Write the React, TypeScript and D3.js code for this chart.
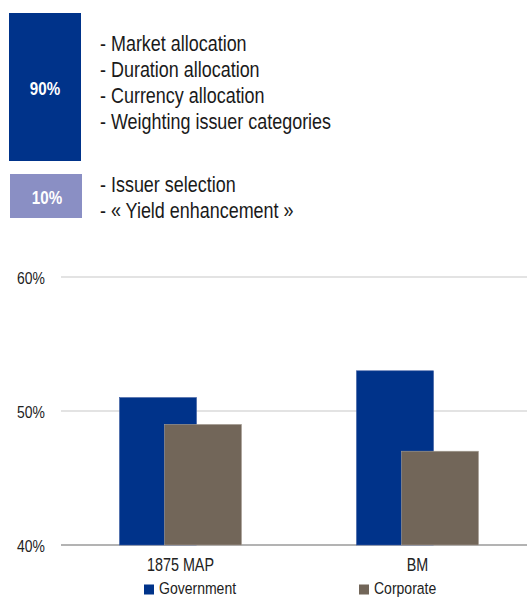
import React from "react";
import * as d3 from "d3";

const categories = ["1875 MAP", "BM"];
const seriesNames = ["Government", "Corporate"];
const government = [51, 53];
const corporate = [49, 47];
const yTicks = [40, 50, 60];
const topItems = ["- Market allocation", "- Duration allocation", "- Currency allocation", "- Weighting issuer categories"];
const bottomItems = ["- Issuer selection", "- « Yield enhancement »"];
const shares = ["90%", "10%"];

const NAVY = "#00338a";
const BROWN = "#726659";
const LIGHT = "#8a8fc4";
const FONT = "'Liberation Sans', Arial, sans-serif";

function NText(props: { x: number; y: number; size: number; sx?: number; anchor?: string; fill?: string; bold?: boolean; children: React.ReactNode }) {
  const { x, y, size, sx = 0.82, anchor = "start", fill = "#1a1a1a", bold = false, children } = props;
  return (
    <g transform={`translate(${x},${y}) scale(${sx},1)`}>
      <text x={0} y={0} fontSize={size} textAnchor={anchor} fill={fill} fontWeight={bold ? "bold" : "normal"}>{children}</text>
    </g>
  );
}

export default function App() {
  const W = 527, H = 598;
  const y = d3.scaleLinear().domain([40, 60]).range([545, 277]);
  const x = d3.scaleBand().domain(categories).range([62, 536]);
  const barW = 77;
  const off = 45;
  const series = [government, corporate];
  const colors = [NAVY, BROWN];
  return (
    <svg width={W} height={H} style={{ position: "absolute", left: 0, top: 0 }} fontFamily={FONT}>
      <rect x={9} y={13} width={72} height={148} fill={NAVY} />
      <NText x={45} y={95} size={18.5} anchor="middle" fill="#fff" bold>{shares[0]}</NText>
      <rect x={10} y={174} width={72} height={44} fill={LIGHT} />
      <NText x={47} y={203.5} size={18.5} anchor="middle" fill="#fff" bold>{shares[1]}</NText>
      {topItems.map((t, i) => (
        <NText key={t} x={100} y={50.5 + i * 26} size={21.5} sx={0.835}>{t}</NText>
      ))}
      {bottomItems.map((t, i) => (
        <NText key={t} x={100} y={192 + i * 26} size={21.5} sx={0.835}>{t}</NText>
      ))}
      {yTicks.map((v) => (
        <g key={v}>
          <line x1={61} x2={527} y1={y(v)} y2={y(v)} stroke={v === 40 ? "#9a9a9a" : "#c8c8c8"} strokeWidth={v === 40 ? 1.5 : 1.2} />
          <NText x={45} y={y(v) + 7} size={17} anchor="end" fill="#222">{v}%</NText>
        </g>
      ))}
      {series.map((vals, si) =>
        categories.map((c, ci) => {
          const cx = (x(c) as number) + x.bandwidth() / 2;
          const left = cx - (barW + off) / 2 + si * off;
          return (
            <rect key={c + si} x={left} y={y(vals[ci])} width={barW} height={y(40) - y(vals[ci])} fill={colors[si]} stroke={si === 1 ? "#a79f96" : "#3a5aa0"} strokeWidth={0.6} />
          );
        })
      )}
      {categories.map((c) => (
        <NText key={c} x={(x(c) as number) + x.bandwidth() / 2} y={571} size={17.5} anchor="middle" fill="#222">{c}</NText>
      ))}
      {seriesNames.map((n, i) => {
        const lx = [144, 359][i];
        return (
          <g key={n}>
            <rect x={lx} y={584.5} width={10} height={10} fill={colors[i]} />
            <NText x={lx + 15} y={594} size={16.5} sx={0.85} fill="#222">{n}</NText>
          </g>
        );
      })}
    </svg>
  );
}
